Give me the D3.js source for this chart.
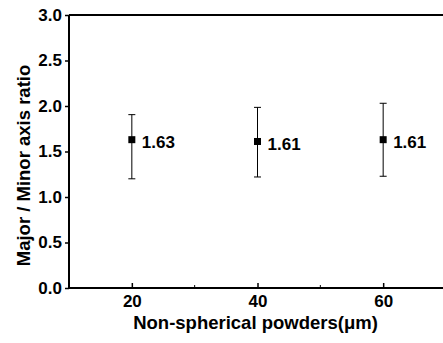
<!DOCTYPE html>
<html>
<head>
<meta charset="utf-8">
<script src="https://cdn.jsdelivr.net/npm/d3@7"></script>
<style>
html,body{margin:0;padding:0;background:#fff;}
svg{display:block;font-family:"Liberation Sans",Arial,sans-serif;font-weight:bold;}
</style>
</head>
<body>
<svg id="chart" width="443" height="343"></svg>
<script>
const sizes = [20, 40, 60];
const means = [1.63, 1.61, 1.63];
const upper = [1.905, 1.985, 2.03];
const lower = [1.20, 1.22, 1.228];
const valueLabels = ["1.63", "1.61", "1.61"];
const xTicks = [20, 40, 60];
const xMinorTicks = [30, 50, 70];
const yTicks = [0, 0.5, 1.0, 1.5, 2.0, 2.5, 3.0];

const svg = d3.select("#chart");
const mLeft = 69, mRight = 446, mTop = 15, mBottom = 288;
const x = d3.scaleLinear().domain([10, 70]).range([mLeft, mRight]);
const y = d3.scaleLinear().domain([0, 3]).range([mBottom, mTop]);

// top border
svg.append("line").attr("x1", mLeft).attr("x2", mRight).attr("y1", mTop).attr("y2", mTop)
  .attr("stroke", "#000").attr("stroke-width", 2);

// y axis
const ya = svg.append("g").attr("transform", `translate(${mLeft},0)`)
  .call(d3.axisLeft(y).tickValues(yTicks).tickFormat(d3.format(".1f")).tickSize(4).tickPadding(3));
ya.select(".domain").attr("stroke-width", 2).attr("d", `M0,${mTop}V${mBottom}`);
ya.selectAll(".tick line").attr("stroke-width", 1.5);
ya.selectAll(".tick text").attr("font-size", 17).attr("font-weight", "bold").attr("font-family", "Liberation Sans, Arial, sans-serif").attr("fill", "#000");

// x axis (inward ticks)
const xa = svg.append("g").attr("transform", `translate(0,${mBottom})`)
  .call(d3.axisBottom(x).tickValues(xTicks).tickFormat(d3.format("d")).tickSize(-5).tickPadding(0));
xa.select(".domain").attr("stroke-width", 2).attr("d", `M${mLeft},0H${mRight}`);
xa.selectAll(".tick line").attr("stroke-width", 1.5);
xa.selectAll(".tick text").attr("font-size", 17).attr("font-weight", "bold").attr("font-family", "Liberation Sans, Arial, sans-serif").attr("fill", "#000")
  .attr("dy", null).attr("y", 19);

svg.append("g").selectAll("line").data(xMinorTicks).join("line")
  .attr("x1", d => x(d)).attr("x2", d => x(d)).attr("y1", mBottom).attr("y2", mBottom - 3)
  .attr("stroke", "#000").attr("stroke-width", 1);

// error bars
const g = svg.append("g");
sizes.forEach((s, i) => {
  const cx = x(s);
  g.append("line").attr("x1", cx).attr("x2", cx).attr("y1", y(upper[i])).attr("y2", y(lower[i]))
    .attr("stroke", "#000").attr("stroke-width", 1);
  [upper[i], lower[i]].forEach(v => {
    g.append("line").attr("x1", cx - 3.5).attr("x2", cx + 3.5).attr("y1", y(v)).attr("y2", y(v))
      .attr("stroke", "#000").attr("stroke-width", 1);
  });
  g.append("rect").attr("x", cx - 3.5).attr("y", y(means[i]) - 3.5).attr("width", 7).attr("height", 7).attr("fill", "#000");
  g.append("text").attr("x", cx + 10).attr("y", y(means[i]) + 8.5)
    .attr("font-size", 17).attr("fill", "#000").text(valueLabels[i]);
});

// axis titles
svg.append("text").attr("x", (131 + 380) / 2).attr("y", 328.5).attr("text-anchor", "middle")
  .attr("font-size", 18.5).attr("fill", "#000").text("Non-spherical powders(μm)");
svg.append("text").attr("transform", "translate(30,165.5) rotate(-90)").attr("text-anchor", "middle")
  .attr("font-size", 18.5).attr("fill", "#000").text("Major / Minor axis ratio");
</script>
</body>
</html>
